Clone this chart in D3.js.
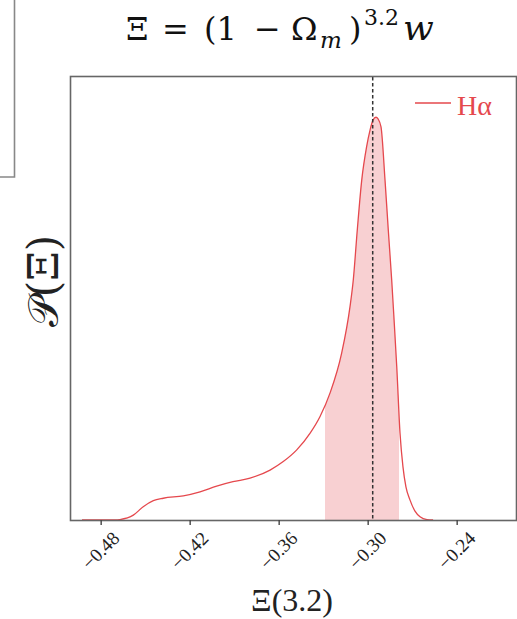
<!DOCTYPE html>
<html><head><meta charset="utf-8">
<script src="https://cdn.jsdelivr.net/npm/d3@7"></script>
<style>body{margin:0;background:#fff;}svg{display:block;}</style>
</head><body>
<script>
// Density curve (x value, relative density)
const xs = [-0.4926,-0.4804,-0.4700,-0.4670,-0.4580,-0.4513,-0.4445,-0.4378,-0.4243,-0.4130,-0.4018,-0.3908,-0.3793,-0.3658,-0.3569,-0.3478,-0.3389,-0.3321,-0.3254,-0.3175,-0.3119,-0.3097,-0.3070,-0.3040,-0.3007,-0.2984,-0.2964,-0.2944,-0.2930,-0.2910,-0.2883,-0.2861,-0.2838,-0.2822,-0.2804,-0.2782,-0.2762,-0.2742,-0.2715,-0.2681,-0.2647,-0.2600,-0.2559];
const dens = [0,0,0,0.001,0.012,0.033,0.048,0.054,0.060,0.070,0.084,0.095,0.104,0.124,0.145,0.174,0.215,0.257,0.315,0.415,0.530,0.596,0.720,0.844,0.927,0.968,0.993,1.0,0.996,0.976,0.844,0.720,0.596,0.497,0.381,0.216,0.132,0.082,0.050,0.022,0.008,0.001,0];
const xTicks = [-0.48,-0.42,-0.36,-0.30,-0.24];
const shadeRange = [-0.3288,-0.2789];
const bestFit = -0.2966;
const legendLabel = "Hα";

const W=517,H=619;
const svg=d3.select("body").append("svg").attr("width",W).attr("height",H);
const L=71,R=516,T=77,B=520;
const x=d3.scaleLinear().domain([-0.5,-0.2]).range([L,R]);
const y=d3.scaleLinear().domain([0,1.1]).range([B,T]);
const red="#e5484d";
const pts=xs.map((v,i)=>[v,dens[i]]);

// left fragment of neighbouring panel
svg.append("path").attr("d",`M0,177H14.5V0`).attr("fill","none").attr("stroke","#888").attr("stroke-width",1.6);

// title
const title=svg.append("text").attr("y",40)
  .attr("font-family","DejaVu Serif").attr("font-size",32).attr("fill","#111");
title.append("tspan").attr("x",126).text("Ξ");
title.append("tspan").attr("x",162).text("=");
title.append("tspan").attr("x",204).text("(1");
title.append("tspan").attr("x",254).text("−");
title.append("tspan").attr("x",291).text("Ω");
title.append("tspan").attr("x",320).attr("font-style","italic").attr("font-size",23).attr("dy",8).text("m");
title.append("tspan").attr("x",349).attr("dy",-8).text(")");
title.append("tspan").attr("x",364).attr("font-size",22).attr("dy",-15).text("3.2");
title.append("tspan").attr("x",403).attr("font-style","italic").attr("font-size",36).attr("dy",15).text("w");

// clip for shaded region
svg.append("clipPath").attr("id","shade").append("rect")
  .attr("x",x(shadeRange[0])).attr("y",T).attr("width",x(shadeRange[1])-x(shadeRange[0])).attr("height",B-T);
const area=d3.area().x(d=>x(d[0])).y0(B).y1(d=>y(d[1])).curve(d3.curveMonotoneX);
const line=d3.line().x(d=>x(d[0])).y(d=>y(d[1])).curve(d3.curveMonotoneX);
svg.append("path").datum(pts).attr("d",area).attr("fill","#f8d0d2").attr("clip-path","url(#shade)");
svg.append("path").datum(pts).attr("d",line).attr("fill","none").attr("stroke",red).attr("stroke-width",1.3);

// best-fit dashed line
svg.append("line").attr("x1",x(bestFit)).attr("x2",x(bestFit)).attr("y1",T).attr("y2",B)
  .attr("stroke","#333").attr("stroke-width",1.5).attr("stroke-dasharray","3.5,2.5");

// frame
svg.append("rect").attr("x",L-0.5).attr("y",T-0.5).attr("width",R-L+1).attr("height",B-T+1)
  .attr("fill","none").attr("stroke","#666").attr("stroke-width",1.6);

// x axis
const ax=svg.append("g").attr("transform",`translate(0,${B})`)
  .call(d3.axisBottom(x).tickValues(xTicks).tickSize(5).tickFormat(d3.format(".2f")));
ax.select(".domain").remove();
ax.selectAll(".tick line").attr("stroke","#444").attr("stroke-width",1.4);
ax.selectAll(".tick text").attr("font-family","Liberation Serif").attr("font-size",19).attr("fill","#222")
  .attr("text-anchor","middle").attr("dy",null).attr("y",0)
  .attr("transform","translate(1,32) rotate(-45)").attr("dominant-baseline","middle");

// x label
svg.append("text").attr("x",292).attr("y",611).attr("text-anchor","middle")
  .attr("font-family","Liberation Serif").attr("font-size",32).attr("fill","#222").text("Ξ(3.2)");
// y label
svg.append("text").attr("transform","translate(58,281) rotate(-90)").attr("text-anchor","middle")
  .attr("font-family","DejaVu Serif").attr("font-size",42).attr("fill","#222")
  .text("𝒫(Ξ)");

// legend
svg.append("line").attr("x1",415).attr("x2",451).attr("y1",103).attr("y2",103).attr("stroke",red).attr("stroke-width",1.3);
svg.append("text").attr("x",457).attr("y",115).attr("font-family","Liberation Serif").attr("font-size",28)
  .attr("fill",red).text(legendLabel);
</script>
</body></html>
